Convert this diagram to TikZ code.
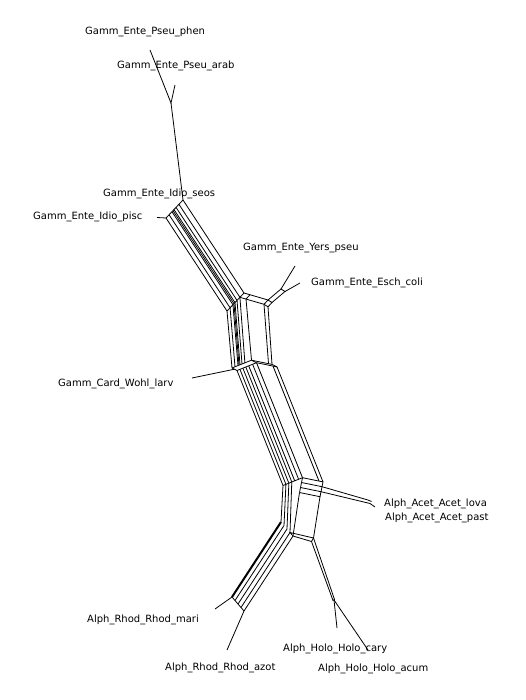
\documentclass[tikz,border=0pt]{standalone}
\usepackage{fontspec}
\setmainfont{DejaVu Sans}
\begin{document}
\begin{tikzpicture}[x=1pt,y=-1pt,
  net/.style={line width=0.8pt, line join=miter, line cap=butt},
  thickedge/.style={line width=2pt},
  lbl/.style={anchor=base west, inner sep=0pt, font=\fontsize{10}{12}\selectfont}]
\useasboundingbox[fill=white] (0,0) rectangle (525,700);

% ---------- trunk and Pseudomonas leaves
\coordinate (tj) at (171,103);
\coordinate (t0) at (183,200);
\draw[net] (150,50) -- (tj) -- (175,85);
\draw[net] (tj) -- (t0);

% ---------- band A (upper diagonal)
\draw[net] (166,218) -- (183,200);          % top cap
\draw[net] (227,311) -- (244,293);          % bottom cap
\foreach \s in {1,0.76,0.59,0.47,0.41,0.35,0.18,0}{
  \draw[net] ({166+17*\s},{218-18*\s}) -- ++(61,93);
}
% Idio_pisc leaf
\draw[net] (157,217.5) -- (166,218);

% ---------- junction J1 (box + Yersinia/Escherichia)
\draw[net] (244,293) -- (268,300) -- (264,304.3) -- (239.92,297.32);
\draw[net] (250,294.75) -- (246,299.05);
\draw[net] (268,300) -- (272,302.5) -- (268,306.8) -- (264,304.3);
\coordinate (y1) at (281,289);
\coordinate (y2) at (285,291.5);
\draw[net] (268,300) -- (y1) -- (y2) -- (272,302.5);
\draw[net] (y1) -- (295,266);
\draw[net] (y2) -- (300,283);

% ---------- band B (vertical)
\draw[net] (239.92,297.32) -- (244.9,362.84);
\draw[net] (237.03,300.38) -- (242,364);
\draw[net] (234.99,302.54) -- (240,364.8);
\draw[net] (233.97,303.62) -- (239,365.2);
\draw[net] (232.95,304.7) -- (238,365.6);
\draw[net] (230.06,307.76) -- (235,366.8);
\draw[net] (227,311) -- (232,368);
\draw[net] (246,299.05) -- (251.5,360.2);
\draw[net] (264,304.3) -- (268.5,363.6);
\draw[net] (268,306.8) -- (272,364.4);

% ---------- junction J2
\draw[net] (232,368) -- (251.5,360.2) -- (272,364.4);
\draw[net] (237,370.5) -- (256.5,362.7) -- (277,366.9);
\draw[net] (232,368) -- (237,370.5);
\draw[net] (251.5,360.2) -- (256.5,362.7);
\draw[net] (272,364.4) -- (277,366.9);
\draw[net] (234.5,369.2) -- (192,378);     % Wohl leaf

% ---------- band C (lower diagonal)
\foreach \u in {0,0.15,0.3,0.45,0.6,0.8,1}{
  \draw[net] ({237+19.5*\u},{370.5-7.8*\u}) -- ++(46,115);
}
\draw[net] (273,366.08) -- (319,481.08);
\draw[net] (277,366.9) -- (323,481.9);

% ---------- junction J3
\draw[net] (283,485.5) -- (302.5,477.7) -- (323,481.9);
\draw[net] (301.5,482.5) -- (322,486.7);
\draw[net] (300.5,487.5) -- (321,491.7);
\draw[net] (299.5,492.5) -- (320,496.7);
\draw[net] (302.5,477.7) -- (299.5,492.5);
\draw[net] (323,481.9) -- (320,496.7);
% Acetobacter
\draw[net] (322,486.7) -- (368,500) -- (371.5,501.5);
\draw[net] (321,491.7) -- (370,503.5) -- (375,507);

% ---------- verticals J3 -> J4
\draw[net] (283,485.5) -- (281,522);
\draw[net] (285.93,484.33) -- (284,525.5);
\draw[net] (288.85,483.16) -- (287,529);
\draw[net] (291.78,481.99) -- (290,532.5);
\draw[net] (299.5,492.5) -- (293,536);
\draw[net] (320,496.7) -- (313.5,538);

% ---------- junction J4
\draw[net] (290,532.5) -- (313.5,538) -- (311.5,541.5) -- (293,536) -- cycle;

% ---------- band D (to Rhodobacter)
\draw[net,thickedge] (281,522) -- (232,597);
\draw[net] (284,525.5) -- (235,600.5);
\draw[net] (287,529) -- (238,604);
\draw[net] (290,532.5) -- (241,607.5);
\draw[net] (293,536) -- (244,611);
\draw[net] (232,597) -- (244,611);
\draw[net] (232,597) -- (215,609);
\draw[net] (244,611) -- (227,650);

% ---------- Holosporaceae
\coordinate (hj) at (334,600);
\draw[net] (313.5,538) -- (334.5,599.5) -- (333,600.5) -- (311.5,541.5);
\draw[net] (hj) -- (337,628);
\draw[net] (hj) -- (368,650);

% ---------- labels
\node[lbl] (Lphen) at (85,34.5) {Gamm\_Ente\_Pseu\_phen};
\node[lbl] (Larab) at (117,68.5) {Gamm\_Ente\_Pseu\_arab};
\node[lbl] (Lseos) at (103,196.5) {Gamm\_Ente\_Idio\_seos};
\node[lbl] (Lpisc) at (33,219.5) {Gamm\_Ente\_Idio\_pisc};
\node[lbl] (Lyers) at (243,250.5) {Gamm\_Ente\_Yers\_pseu};
\node[lbl] (Lesch) at (311,285.5) {Gamm\_Ente\_Esch\_coli};
\node[lbl] (Lwohl) at (58,386.5) {Gamm\_Card\_Wohl\_larv};
\node[lbl] (Llova) at (384,506.5) {Alph\_Acet\_Acet\_lova};
\node[lbl] (Lpast) at (385,520.5) {Alph\_Acet\_Acet\_past};
\node[lbl] (Lmari) at (87,622.5) {Alph\_Rhod\_Rhod\_mari};
\node[lbl] (Lazot) at (165,670.5) {Alph\_Rhod\_Rhod\_azot};
\node[lbl] (Lcary) at (283,651.5) {Alph\_Holo\_Holo\_cary};
\node[lbl] (Lacum) at (318,671.5) {Alph\_Holo\_Holo\_acum};
\end{tikzpicture}
\end{document}
